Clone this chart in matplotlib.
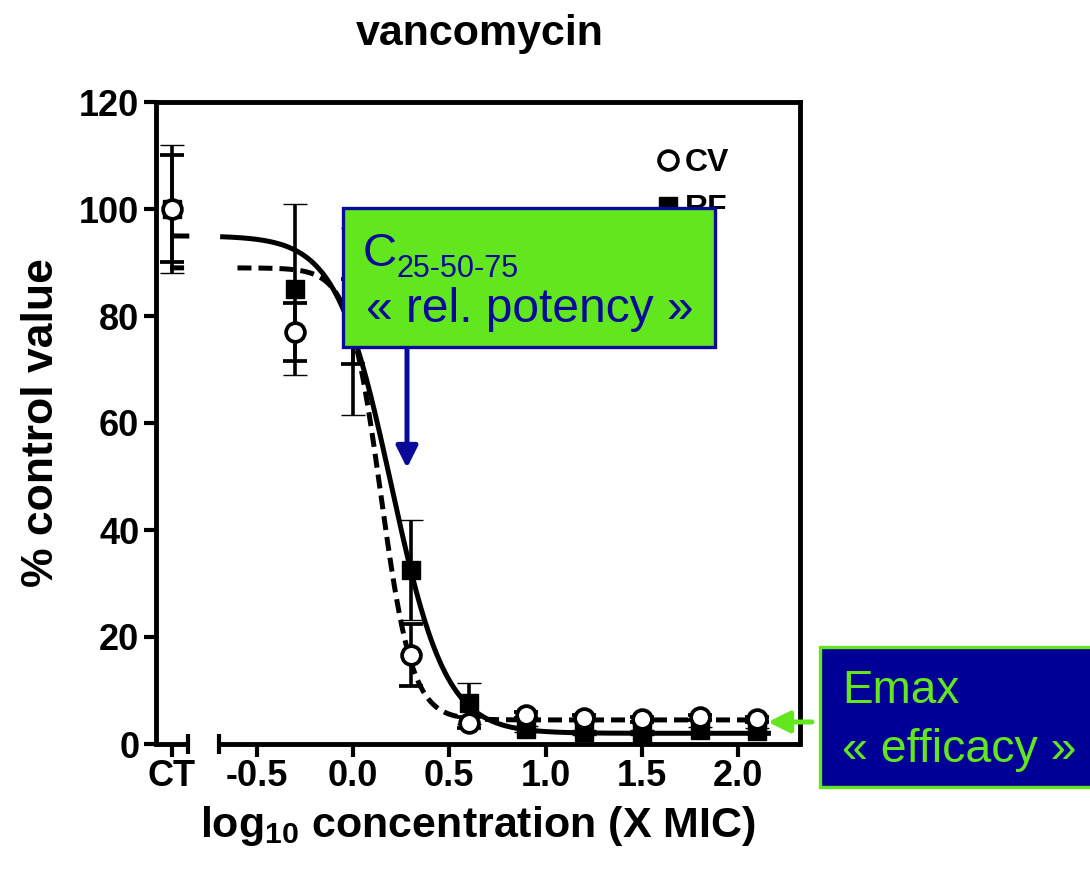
import numpy as np
import matplotlib
matplotlib.use('Agg')
import matplotlib.pyplot as plt
from matplotlib.patches import Rectangle, FancyArrowPatch

plt.rcParams['font.family'] = ['Liberation Sans', 'DejaVu Sans']
plt.rcParams['font.weight'] = 'bold'
plt.rcParams['axes.labelweight'] = 'bold'

# ---------------- data ----------------
title = "vancomycin"
x_ct = -0.94
x_conc = [-0.3, 0.0, 0.3, 0.6, 0.9, 1.2, 1.5, 1.8, 2.1]
x_all = [x_ct] + x_conc
cv_mean = [100, 77, 79, 16.6, 4.0, 5.4, 4.9, 4.6, 5.0, 4.6]
cv_err = [10, 5.5, 8, 5.8, 1.0, 0.6, 0.5, 0.5, 0.5, 0.5]
rf_mean = [100, 85, 79, 32.5, 7.6, 2.8, 2.2, 2.1, 2.6, 2.4]
rf_err = [12, 16, 17.5, 9.3, 3.8, 0.6, 0.5, 0.5, 0.5, 0.5]
# fitted sigmoid parameters: top, bottom, logEC50, Hill slope
rf_fit = [95.0, 2.0, 0.198, 3.06]
cv_fit = [89.0, 4.5, 0.144, 5.31]
xticks = [x_ct, -0.5, 0.0, 0.5, 1.0, 1.5, 2.0]
xticklabels = ['CT', '-0.5', '0.0', '0.5', '1.0', '1.5', '2.0']
yticks = [0, 20, 40, 60, 80, 100, 120]
legend_labels = ['CV', 'RF']


def hill(x, p):
    top, bottom, c, h = p
    return bottom + (top - bottom) / (1 + 10 ** ((np.asarray(x) - c) * h))


W, H = 1090, 872
fx = lambda px: px / W
fy = lambda py: 1 - py / H

fig = plt.figure(figsize=(W / 100, H / 100), dpi=100)
ax = fig.add_axes([fx(156), fy(744), fx(800) - fx(156), fy(102) - fy(744)])
xlim = (-1.023, 2.321)
ax.set_xlim(*xlim)
ax.set_ylim(0, 120)

# fitted curves
xs_rf = np.linspace(-0.69, 2.17, 400)
xs_cv = np.linspace(-0.60, 2.13, 400)
xs_ct = np.linspace(-0.95, -0.85, 10)
ax.plot(xs_rf, hill(xs_rf, rf_fit), color='k', lw=3.6, zorder=2, solid_capstyle='butt')
ax.plot(xs_ct, hill(xs_ct, rf_fit), color='k', lw=3.6, zorder=2, solid_capstyle='butt')
ax.plot(xs_cv, hill(xs_cv, cv_fit), color='k', lw=3.6, ls=(0, (2.8, 1.4)), zorder=2)
ax.plot(xs_ct, hill(xs_ct, cv_fit), color='k', lw=3.6, ls=(0, (2.8, 1.4)), zorder=2)

# data with error bars
rf_eb = ax.errorbar(x_all, rf_mean, yerr=rf_err, fmt='s', ms=13, mfc='k', mec='k', mew=1,
                    ecolor='k', elinewidth=2.6, capsize=8.5, capthick=3, zorder=3)
cv_eb = ax.errorbar(x_all, cv_mean, yerr=cv_err, fmt='o', ms=13.5, mfc='white', mec='k', mew=2.7,
                    ecolor='k', elinewidth=2.6, capsize=8.5, capthick=3, zorder=4)

# axes styling
for s in ['left', 'top', 'right']:
    ax.spines[s].set_linewidth(3.5)
ax.spines['bottom'].set_visible(False)
# broken bottom axis
ax.plot([xlim[0], -0.85], [0, 0], color='k', lw=3.5, clip_on=False, solid_capstyle='butt', zorder=5)
ax.plot([-0.70, xlim[1]], [0, 0], color='k', lw=3.5, clip_on=False, solid_capstyle='butt', zorder=5)
for xb in [-0.855, -0.695]:
    ax.plot([xb, xb], [-1.8, 1.8], color='k', lw=3.0, clip_on=False, solid_capstyle='butt', zorder=5)

ax.set_xticks(xticks)
ax.set_xticklabels(xticklabels)
ax.set_yticks(yticks)
ax.tick_params(axis='both', direction='out', length=9, width=3, labelsize=26)
ax.tick_params(axis='x', pad=2)
ax.tick_params(axis='y', pad=3)

ax.set_xlabel(r'log$_{\mathregular{10}}$ concentration (X MIC)', fontsize=31,
              fontweight='bold', labelpad=7)
ax.set_ylabel('% control value', fontsize=32, fontweight='bold', labelpad=12)
fig.text(fx(480), fy(45), title, ha='center', va='baseline', fontsize=31, fontweight='bold')

# legend
ax.legend(handles=[cv_eb[0], rf_eb[0]], labels=legend_labels, loc='upper left',
          bbox_to_anchor=(fx(658), fy(148)), bbox_transform=fig.transFigure,
          frameon=False, fontsize=23, handlelength=0.6, handletextpad=0.25,
          labelspacing=0.5, borderpad=0, borderaxespad=0)

# annotation box: potency
green = '#62E61E'
navy = '#0A0A9A'
fig.add_artist(Rectangle((fx(343), fy(347)), fx(715) - fx(343), fy(208) - fy(347),
                         transform=fig.transFigure, facecolor=green, edgecolor=navy,
                         lw=2.4, zorder=10))
fig.text(fx(363), fy(266), 'C', ha='left', va='baseline', fontsize=34,
         fontweight='normal', color=navy, zorder=11)
fig.text(fx(397), fy(277), '25-50-75', ha='left', va='baseline', fontsize=22,
         fontweight='normal', color=navy, zorder=11)
fig.text(fx(366), fy(322), '« rel. potency »', ha='left', va='baseline', fontsize=34.5,
         fontweight='normal', color=navy, zorder=11)
fig.add_artist(FancyArrowPatch((fx(407), fy(349)), (fx(407), fy(468)),
                               transform=fig.transFigure, arrowstyle='-|>,head_length=1.3,head_width=0.65',
                               mutation_scale=10, lw=3.6, color=navy, shrinkA=0, shrinkB=0, zorder=10))

# annotation box: efficacy
fig.add_artist(Rectangle((fx(820), fy(787)), fx(1100) - fx(820), fy(647) - fy(787),
                         transform=fig.transFigure, facecolor='#000096', edgecolor=green,
                         lw=2.4, zorder=10))
fig.text(fx(842), fy(703), 'Emax', ha='left', va='baseline', fontsize=33,
         fontweight='normal', color=green, zorder=11)
fig.text(fx(842), fy(762), '« efficacy »', ha='left', va='baseline', fontsize=33.5,
         fontweight='normal', color=green, zorder=11)
fig.add_artist(FancyArrowPatch((fx(812), fy(722)), (fx(768), fy(722)),
                               transform=fig.transFigure, arrowstyle='-|>,head_length=1.3,head_width=0.65',
                               mutation_scale=10, lw=3.6, color=green, shrinkA=0, shrinkB=0, zorder=10))

fig.savefig('out.png', dpi=100)
